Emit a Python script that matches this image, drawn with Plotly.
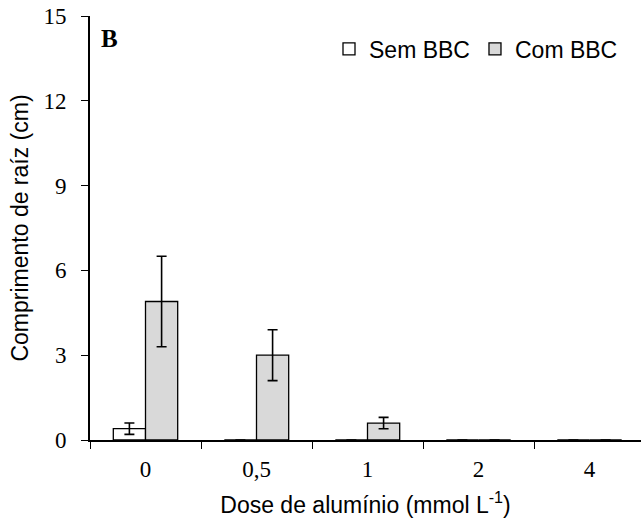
import plotly.graph_objects as go

# Aluminium dose levels (categorical x axis)
doses = ["0", "0,5", "1", "2", "4"]

# Root length (cm), mean and error, without BBC
sem_bbc = [0.4, 0.0, 0.0, 0.0, 0.0]
sem_bbc_err = [0.2, None, None, None, None]

# Root length (cm), mean and error, with BBC
com_bbc = [4.9, 3.0, 0.6, 0.0, 0.0]
com_bbc_err = [1.6, 0.9, 0.2, None, None]

y_ticks = [0, 3, 6, 9, 12, 15]

serif = "Liberation Serif"
sans = "Liberation Sans"

err_style = dict(type="data", visible=True, color="black", thickness=1.6, width=5)

fig = go.Figure()
fig.add_trace(go.Bar(
    x=doses, y=sem_bbc, name="Sem BBC",
    marker=dict(color="white", line=dict(color="black", width=1.3)),
    error_y=dict(array=sem_bbc_err, **err_style),
))
fig.add_trace(go.Bar(
    x=doses, y=com_bbc, name="Com BBC",
    marker=dict(color="#d9d9d9", line=dict(color="black", width=1.3)),
    error_y=dict(array=com_bbc_err, **err_style),
))

plot_left, plot_right = 90, 641
plot_top, plot_bottom = 16, 440
cat_px = 111
plot_w, plot_h = plot_right - plot_left, plot_bottom - plot_top

fig.update_layout(
    width=641, height=522,
    margin=dict(l=plot_left, r=641 - plot_right, t=plot_top, b=522 - plot_bottom),
    paper_bgcolor="white", plot_bgcolor="white",
    barmode="group", bargap=0.42, bargroupgap=0,
    showlegend=True,
    legend=dict(
        orientation="h", x=(623 - plot_left) / plot_w, y=0.973,
        xanchor="right", yanchor="top",
        font=dict(family=sans, size=23, color="black"),
        itemwidth=30, bgcolor="rgba(0,0,0,0)", traceorder="normal",
    ),
    annotations=[dict(
        text="<b>B</b>",
        x=(109 - plot_left) / plot_w, y=1 - (38.5 - plot_top) / plot_h,
        xref="paper", yref="paper",
        xanchor="center", yanchor="middle", showarrow=False,
        font=dict(family=serif, size=25, color="black"),
    )],
)

fig.update_xaxes(
    type="category",
    range=[-0.5, -0.5 + plot_w / cat_px],
    showline=True, linecolor="black", linewidth=1.6,
    ticks="outside", tickson="boundaries", ticklen=7, tickwidth=1.4, tickcolor="black",
    ticklabelstandoff=8,
    showgrid=False, zeroline=False,
    tickfont=dict(family=serif, size=23, color="black"),
    title=dict(text="Dose de alumínio (mmol L<sup>-1</sup>)",
               font=dict(family=sans, size=23, color="black"), standoff=15),
)
fig.update_yaxes(
    range=[0, 15], tickvals=y_ticks,
    showline=True, linecolor="black", linewidth=1.6,
    ticks="outside", ticklen=7, tickwidth=1.4, tickcolor="black",
    ticklabelstandoff=10,
    showgrid=False, zeroline=False,
    tickfont=dict(family=serif, size=23, color="black"),
    title=dict(text="Comprimento de raíz (cm)",
               font=dict(family=sans, size=23, color="black"), standoff=9),
)

fig.write_html("out.html")
